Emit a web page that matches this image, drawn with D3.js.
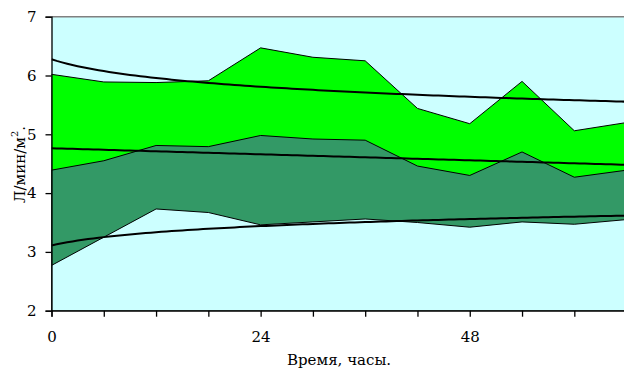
<!DOCTYPE html>
<html>
<head>
<meta charset="utf-8">
<script src="https://cdn.jsdelivr.net/npm/d3@7"></script>
<style>
  html, body { margin: 0; padding: 0; background: #ffffff; }
  svg { display: block; }
</style>
</head>
<body>
<svg id="chart" width="624" height="371"></svg>
<script>
// Sampling times, hours
const hours = [0, 6, 12, 18, 24, 30, 36, 42, 48, 54, 60, 66];
// Upper bound, mean and lower bound, L/min/m²
const upperValues = [6.02, 5.89, 5.88, 5.91, 6.47, 6.31, 6.25, 5.44, 5.18, 5.90, 5.06, 5.20];
const meanValues  = [4.39, 4.55, 4.81, 4.79, 4.98, 4.92, 4.90, 4.46, 4.30, 4.70, 4.27, 4.39];
const lowerValues = [2.77, 3.25, 3.73, 3.67, 3.46, 3.51, 3.56, 3.50, 3.42, 3.51, 3.47, 3.55];
// Axis ticks
const yTicks = [2, 3, 4, 5, 6, 7];
const xTickLabels = [0, 24, 48];

const serif = "DejaVu Serif, serif";
const svg = d3.select("#chart");
const plot = { left: 51.5, top: 16.7, right: 626.6, bottom: 310.7 };

const x = d3.scaleLinear().domain([0, 66]).range([plot.left, plot.right]);
const y = d3.scaleLinear().domain([2, 7]).range([plot.bottom, plot.top]);

svg.append("defs").append("clipPath").attr("id", "plotClip")
  .append("rect")
  .attr("x", plot.left).attr("y", plot.top)
  .attr("width", plot.right - plot.left).attr("height", plot.bottom - plot.top);

// Plot background
svg.append("rect")
  .attr("x", plot.left).attr("y", plot.top)
  .attr("width", plot.right - plot.left).attr("height", plot.bottom - plot.top)
  .attr("fill", "#CCFFFF");

const g = svg.append("g").attr("clip-path", "url(#plotClip)");

// Overlapping areas: upper band, mean band, then lower band in background colour
const bands = [
  { values: upperValues, fill: "#00FF00" },
  { values: meanValues,  fill: "#339966" },
  { values: lowerValues, fill: "#CCFFFF" }
];
const area = d3.area()
  .x((d, i) => x(hours[i]))
  .y0(y(2))
  .y1(d => y(d));
bands.forEach(b => {
  g.append("path")
    .datum(b.values)
    .attr("d", area)
    .attr("fill", b.fill)
    .attr("stroke", "#000")
    .attr("stroke-width", 1);
});

// Least-squares trend lines over point index 1..n
function fitTrend(values, transform) {
  const xs = values.map((v, i) => transform(i + 1));
  const mx = d3.mean(xs), my = d3.mean(values);
  let sxy = 0, sxx = 0;
  xs.forEach((xv, i) => { sxy += (xv - mx) * (values[i] - my); sxx += (xv - mx) * (xv - mx); });
  const a = sxy / sxx, b = my - a * mx;
  return k => a * transform(k) + b;
}
const trends = [
  fitTrend(upperValues, Math.log),   // logarithmic
  fitTrend(meanValues, k => k),      // linear
  fitTrend(lowerValues, Math.log)    // logarithmic
];
const steps = d3.range(0, 11.001, 0.1);
trends.forEach(f => {
  const line = d3.line()
    .x(t => x(t * 6))
    .y(t => y(f(t + 1)));
  g.append("path")
    .datum(steps)
    .attr("d", line)
    .attr("fill", "none")
    .attr("stroke", "#000")
    .attr("stroke-width", 2);
});

// Top border of plot area
svg.append("line")
  .attr("x1", plot.left).attr("x2", 624)
  .attr("y1", plot.top).attr("y2", plot.top)
  .attr("stroke", "#808080").attr("stroke-width", 1.5);

// Y axis
const yAxis = d3.axisLeft(y).tickValues(yTicks).tickSize(6).tickPadding(9).tickFormat(d3.format("d"));
const yg = svg.append("g").attr("transform", `translate(${plot.left},0)`).call(yAxis)
  .attr("font-family", serif).attr("font-size", 15);
yg.select(".domain").attr("stroke", "#000").attr("stroke-width", 1.3);
yg.selectAll(".tick line").attr("stroke", "#000").attr("stroke-width", 1.3);
yg.selectAll(".tick text").attr("fill", "#000");

// X axis: a tick at every sample, labels every 24 hours
const xAxis = d3.axisBottom(x).tickValues(hours).tickSize(6).tickPadding(15)
  .tickFormat(d => xTickLabels.includes(d) ? d : "");
const xg = svg.append("g").attr("transform", `translate(0,${plot.bottom})`).call(xAxis)
  .attr("font-family", serif).attr("font-size", 15);
xg.select(".domain").attr("stroke", "#000").attr("stroke-width", 1.3);
xg.selectAll(".tick line").attr("stroke", "#000").attr("stroke-width", 1.3);
xg.selectAll(".tick text").attr("fill", "#000");

// Axis titles
svg.append("text")
  .attr("x", (plot.left + plot.right) / 2)
  .attr("y", 365)
  .attr("text-anchor", "middle")
  .attr("font-family", serif)
  .attr("font-size", 15)
  .attr("fill", "#000")
  .text("Время, часы.");

const yTitle = svg.append("text")
  .attr("transform", "translate(25,203) rotate(-90)")
  .attr("text-anchor", "start")
  .attr("font-family", serif)
  .attr("font-size", 15)
  .attr("fill", "#000");
yTitle.append("tspan").text("Л/мин/м");
yTitle.append("tspan").attr("dy", -7).attr("font-size", 10).text("2");
yTitle.append("tspan").attr("dy", 7).text(".");
</script>
</body>
</html>
